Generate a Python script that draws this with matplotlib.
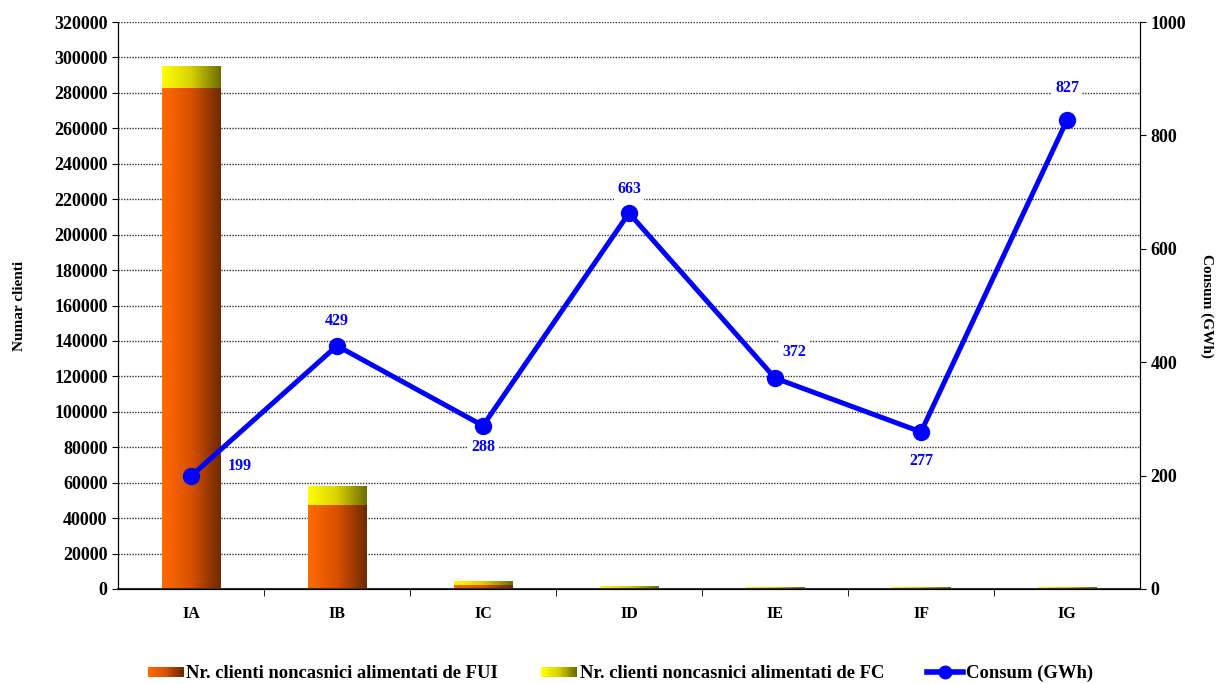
import numpy as np
import matplotlib
matplotlib.use("Agg")
import matplotlib.pyplot as plt
from matplotlib.colors import LinearSegmentedColormap
from matplotlib.legend_handler import HandlerBase
from matplotlib.patches import Rectangle
from matplotlib.lines import Line2D

categories = ["IA", "IB", "IC", "ID", "IE", "IF", "IG"]
fui = [282700, 47400, 2200, 700, 80, 60, 50]
fc = [12400, 10200, 1800, 1000, 700, 700, 700]
consum = [199, 429, 288, 663, 372, 277, 827]
label_fui = "Nr. clienti noncasnici alimentati de FUI"
label_fc = "Nr. clienti noncasnici alimentati de FC"
label_consum = "Consum (GWh)"

plt.rcParams['font.family'] = ['Liberation Serif', 'DejaVu Serif']
plt.rcParams['font.weight'] = 'bold'

cmap_fui = LinearSegmentedColormap.from_list("fui", ["#ff6a00", "#d95000", "#6e2a00"])
cmap_fc = LinearSegmentedColormap.from_list("fc", ["#ffff00", "#d8d000", "#6e6e00"])

fig = plt.figure(figsize=(12.21, 6.84), dpi=100)
ax = fig.add_axes([0.0966, 0.1389, 0.8371, 0.8289])
ax2 = ax.twinx()

x = np.arange(len(categories))
w = 0.4
grad = np.linspace(0, 1, 64).reshape(1, -1)

b1 = ax.bar(x, fui, width=w, color="none", edgecolor="none", zorder=2)
b2 = ax.bar(x, fc, width=w, bottom=fui, color="none", edgecolor="none", zorder=2)
for bars, cm in ((b1, cmap_fui), (b2, cmap_fc)):
    for r in bars:
        x0, y0 = r.get_x(), r.get_y()
        ax.imshow(grad, cmap=cm, aspect="auto", zorder=2,
                  extent=[x0, x0 + r.get_width(), y0, y0 + r.get_height()],
                  interpolation="bilinear")

ax.set_xlim(-0.5, len(categories) - 0.5)
ax.set_ylim(0, 320000)
ax.set_yticks(np.arange(0, 320001, 20000))
ax.yaxis.grid(True, linestyle=(0, (1, 1)), color="#333333", linewidth=1.0, zorder=0)
ax.set_axisbelow(True)
ax.set_xticks(x)
ax.set_xticklabels(categories)
ax.set_xticks(np.arange(0.5, len(categories) - 0.5, 1), minor=True)
ax.tick_params(axis="x", which="major", length=0, pad=12, labelsize=11.5)
ax.tick_params(axis="x", which="minor", length=5, direction="out")
ax.tick_params(axis="y", labelsize=13, length=4)
ax.set_ylabel("Numar clienti", fontsize=11, fontweight="bold", labelpad=20)
ax.spines["top"].set_visible(False)
ax.spines["bottom"].set_linewidth(1.5)
ax.spines["bottom"].set_color("#333333")

ax2.plot(x, consum, color="#0000ff", linewidth=3.6, marker="o", markersize=11.5, zorder=5)
ax2.set_ylim(0, 1000)
ax2.set_yticks(np.arange(0, 1001, 200))
ax2.tick_params(axis="y", labelsize=13, length=4)
ax2.set_ylabel(label_consum, fontsize=11, fontweight="bold", rotation=-90, labelpad=20)
ax2.spines["top"].set_visible(False)

offsets = [(35, 7), (0, 18), (0, -15), (0, 17), (14, 19), (0, -21), (0, 23)]
for xi, v, off in zip(x, consum, offsets):
    ax2.annotate(str(v), (xi, v), xytext=off, textcoords="offset points",
                 ha="center", va="center", color="#0000ff", fontsize=11.5, fontweight="bold",
                 bbox=dict(boxstyle="square,pad=0.2", fc="white", ec="none"), zorder=6)


class GradHandler(HandlerBase):
    def __init__(self, cmap):
        super().__init__()
        self.cmap = cmap

    def create_artists(self, legend, orig_handle, xdescent, ydescent, width, height, fontsize, trans):
        n = 16
        h = height * 0.75
        y0 = -ydescent + (height - h) / 2
        arts = []
        for i in range(n):
            arts.append(Rectangle((-xdescent + width * i / n, y0), width / n + 0.3, h,
                                  facecolor=self.cmap(i / (n - 1)), edgecolor="none", transform=trans))
        return arts


h1 = Rectangle((0, 0), 1, 1)
h2 = Rectangle((0, 0), 1, 1)
h3 = Line2D([], [], color="#0000ff", linewidth=4, marker="o", markersize=9)
fig.legend([h1, h2, h3], [label_fui, label_fc, label_consum],
           handler_map={h1: GradHandler(cmap_fui), h2: GradHandler(cmap_fc)},
           loc="center", bbox_to_anchor=(0.508, 0.015), ncol=3, frameon=False,
           fontsize=13.4, handlelength=1.93, handletextpad=0.15, columnspacing=2.3,
           borderpad=0, borderaxespad=0)

fig.savefig("out.png", dpi=100)
